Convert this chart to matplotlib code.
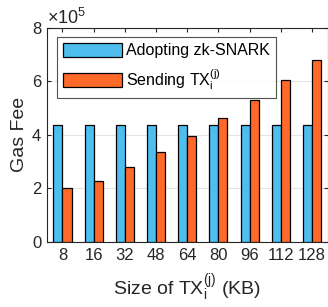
import matplotlib
matplotlib.use("Agg")
import matplotlib.pyplot as plt
import numpy as np
from matplotlib.ticker import FuncFormatter

plt.rcParams['font.family'] = ['Liberation Sans', 'DejaVu Sans']
plt.rcParams['mathtext.fontset'] = 'custom'
plt.rcParams['mathtext.rm'] = 'Liberation Sans'
plt.rcParams['mathtext.it'] = 'Liberation Sans'

sizes = ['8', '16', '32', '48', '64', '80', '96', '112', '128']
zk_snark = [4.35e5, 4.35e5, 4.35e5, 4.35e5, 4.35e5, 4.35e5, 4.35e5, 4.35e5, 4.35e5]
sending_tx = [2.01e5, 2.27e5, 2.79e5, 3.35e5, 3.97e5, 4.62e5, 5.31e5, 6.06e5, 6.80e5]

blue = '#4DBEEE'
orange = '#FF6A2A'
axc = '#262626'

fig = plt.figure(figsize=(3.28, 3.07), dpi=100)
ax = fig.add_axes([0.143, 0.2117, 0.8555, 0.6987])

x = np.arange(1, len(sizes) + 1)
w = 0.29
ax.bar(x - w / 2, zk_snark, w, color=blue, edgecolor='black', linewidth=0.9,
       label='Adopting zk-SNARK', zorder=3)
ax.bar(x + w / 2, sending_tx, w, color=orange, edgecolor='black', linewidth=0.9,
       label=r'Sending TX$_{\mathrm{i}}^{\mathrm{(j)}}$', zorder=3)

ax.set_xlim(0.5, 9.5)
ax.set_ylim(0, 8e5)
ax.set_xticks(x)
ax.set_xticklabels(sizes)
ax.set_yticks([0, 2e5, 4e5, 6e5, 8e5])
ax.yaxis.set_major_formatter(FuncFormatter(lambda v, p: f'{v/1e5:g}'))
ax.grid(axis='y', color='#E5E5E5', linewidth=0.8, zorder=0)
ax.tick_params(direction='in', top=True, right=True, labelsize=12, colors=axc,
               length=3, pad=4)
for s in ax.spines.values():
    s.set_color(axc)
    s.set_linewidth(0.8)

ax.set_ylabel('Gas Fee', fontsize=14, color=axc, labelpad=3)
ax.set_xlabel(r'Size of TX$_{\mathrm{i}}^{\mathrm{(j)}}$ (KB)', fontsize=14, color=axc, labelpad=7)
ax.text(0.0, 1.0, r'$\times\mathregular{10^5}$', transform=ax.transAxes, fontsize=13,
        color=axc, ha='left', va='bottom')

leg = ax.legend(loc='upper left', bbox_to_anchor=(0.036, 0.955), fontsize=11.5,
                handlelength=3.7, handleheight=1.0, frameon=True, fancybox=False,
                edgecolor=axc, borderpad=0.35, labelspacing=0.55, handletextpad=0.3,
                borderaxespad=0)
leg.get_frame().set_linewidth(0.8)

fig.savefig('out.png', dpi=100)
